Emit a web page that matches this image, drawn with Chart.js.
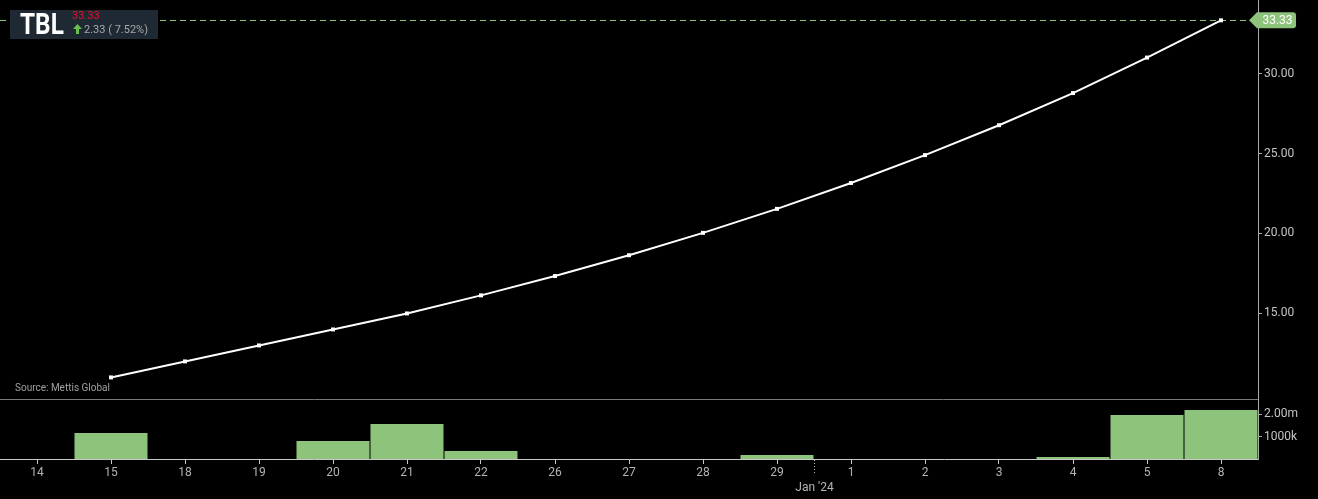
<!DOCTYPE html>
<html lang="en">

<head>
    <meta charset="UTF-8">
    <title>TBL</title>
    <script src="https://cdn.jsdelivr.net/npm/chart.js"></script>
    <style>
        body { margin: 0; background: #000; font-family: Roboto, sans-serif; }
        .wrap { position: relative; width: 1318px; height: 499px; }
        #info { position: absolute; left: 10px; top: 10px; width: 148px; height: 29px; background: #1e2934; }
        #info .sym { position: absolute; left: 10px; top: -3px; font: bold 29px Roboto, sans-serif; color: #fff; line-height: 34px; transform: scaleX(0.84); transform-origin: left center; }
        #info .px { position: absolute; left: 62px; top: 0px; font-size: 11px; line-height: 12px; color: #e3122c; }
        #info .chg { position: absolute; left: 63px; top: 13px; font-size: 11px; line-height: 14px; color: #a8a8a8; white-space: pre; }
        #info svg { vertical-align: -1px; margin-right: 2px; }
        .source { position: absolute; left: 15px; top: 382px; font-size: 10px; line-height: 12px; color: #a0a0a0; }
    </style>
</head>

<body>
    <div class="wrap">
        <canvas id="tblChart"></canvas>
        <div id="info">
            <span class="sym">TBL</span>
            <span class="px">33.33</span>
            <span class="chg"><svg width="9" height="10" viewBox="0 0 9 10"><polygon points="4.5,0 9,5 6,5 6,10 3,10 3,5 0,5" fill="#6cc04a"/></svg>2.33 ( 7.52%)</span>
        </div>
        <div class="source">Source: Mettis Global</div>
    </div>

    <script>
        // days (Dec '23 -> Jan '24)
        const days = ['14', '15', '18', '19', '20', '21', '22', '26', '27', '28', '29', '1', '2', '3', '4', '5', '8'];
        const prices = [null, 11.00, 12.00, 13.00, 14.00, 15.00, 16.13, 17.34, 18.64, 20.04, 21.54, 23.16, 24.90, 26.77, 28.78, 31.00, 33.33];
        const volumes = [0, 1160000, 0, 0, 800000, 1560000, 360000, 0, 0, 0, 180000, 0, 0, 0, 90000, 1960000, 2180000];
        const priceTicks = [15, 20, 25, 30];
        const volTicks = [1000000, 2000000];
        const volTickLabels = ['1000k', '2.00m'];
        const monthLabel = "Jan '24";
        const monthStartIndex = 11;

        const GREEN = '#8dc37a';

        const overlay = {
            id: 'overlay',
            beforeDatasetsDraw(chart) {
                const { ctx, chartArea, scales } = chart;
                ctx.save();
                // panel separator
                const sepY = Math.round(scales.vol.top) + 0.5;
                ctx.strokeStyle = '#7a7a7a';
                ctx.lineWidth = 1;
                ctx.beginPath();
                ctx.moveTo(chartArea.left, sepY);
                ctx.lineTo(chartArea.right, sepY);
                ctx.stroke();
                // last price line
                const last = prices[prices.length - 1];
                const y = Math.round(scales.y.getPixelForValue(last)) + 0.5;
                ctx.setLineDash([6, 4]);
                ctx.strokeStyle = GREEN;
                ctx.beginPath();
                ctx.moveTo(chartArea.left, y);
                ctx.lineTo(chartArea.right - 8, y);
                ctx.stroke();
                ctx.restore();
            },
            afterDraw(chart) {
                const { ctx, chartArea, scales } = chart;
                const last = prices[prices.length - 1];
                const y = scales.y.getPixelForValue(last);
                const x0 = chartArea.right - 9;
                const x1 = x0 + 8, x2 = x0 + 47, h = 8, r = 3;
                ctx.save();
                ctx.fillStyle = GREEN;
                ctx.beginPath();
                ctx.moveTo(x0, y);
                ctx.lineTo(x1, y - h);
                ctx.lineTo(x2 - r, y - h);
                ctx.quadraticCurveTo(x2, y - h, x2, y - h + r);
                ctx.lineTo(x2, y + h - r);
                ctx.quadraticCurveTo(x2, y + h, x2 - r, y + h);
                ctx.lineTo(x1, y + h);
                ctx.closePath();
                ctx.fill();
                ctx.fillStyle = '#fff';
                ctx.font = '12px Roboto';
                ctx.textAlign = 'center';
                ctx.textBaseline = 'middle';
                ctx.fillText(last.toFixed(2), (x1 + x2) / 2 + 1, y + 1);

                // month break
                const mx = Math.round((scales.x.getPixelForValue(monthStartIndex - 1) + scales.x.getPixelForValue(monthStartIndex)) / 2) + 0.5;
                ctx.strokeStyle = '#bbb';
                ctx.lineWidth = 1;
                ctx.setLineDash([1, 2]);
                ctx.beginPath();
                ctx.moveTo(mx, chartArea.bottom + 1);
                ctx.lineTo(mx, chartArea.bottom + 16);
                ctx.stroke();
                ctx.setLineDash([]);
                ctx.fillStyle = '#b4b4b4';
                ctx.fillText(monthLabel, mx, 488);
                ctx.restore();
            }
        };

        const ctx = document.getElementById('tblChart').getContext('2d');

        new Chart(ctx, {
            data: {
                labels: days,
                datasets: [{
                    type: 'line',
                    label: 'Price',
                    data: prices,
                    yAxisID: 'y',
                    borderColor: '#ffffff',
                    borderWidth: 2,
                    pointStyle: 'rect',
                    pointRadius: 2.8,
                    pointBorderWidth: 0,
                    pointBackgroundColor: '#ffffff',
                    tension: 0
                }, {
                    type: 'bar',
                    label: 'Volume',
                    data: volumes,
                    yAxisID: 'vol',
                    backgroundColor: GREEN,
                    barPercentage: 1,
                    categoryPercentage: 73 / 74
                }]
            },
            options: {
                responsive: true,
                maintainAspectRatio: false,
                animation: false,
                layout: { padding: 0, autoPadding: false },
                plugins: {
                    legend: { display: false },
                    tooltip: { enabled: false }
                },
                scales: {
                    x: {
                        type: 'category',
                        offset: true,
                        afterFit: (s) => { s.height = 40; s.paddingLeft = 0; s.paddingRight = 0; },
                        grid: { drawOnChartArea: false, offset: false, tickLength: 5, color: '#c8c8c8' },
                        border: { color: '#c8c8c8' },
                        ticks: { color: '#b4b4b4', font: { family: 'Roboto', size: 12 }, padding: 2, autoSkip: false, maxRotation: 0 }
                    },
                    y: {
                        position: 'right',
                        stack: 'right',
                        stackWeight: 399,
                        min: 9.65,
                        max: 34.6,
                        afterFit: (s) => { s.width = 60; s.paddingTop = 0; s.paddingBottom = 0; },
                        afterBuildTicks: (s) => { s.ticks = priceTicks.map(v => ({ value: v })); },
                        grid: { drawOnChartArea: false, tickLength: 4, color: '#aaaaaa' },
                        border: { color: '#aaaaaa' },
                        ticks: { color: '#c4c4c4', font: { family: 'Roboto', size: 12 }, padding: 2, callback: (v) => Number(v).toFixed(2) }
                    },
                    vol: {
                        position: 'right',
                        stack: 'right',
                        stackWeight: 60,
                        min: 0,
                        max: 2670000,
                        afterFit: (s) => { s.width = 60; s.paddingTop = 0; s.paddingBottom = 0; },
                        afterBuildTicks: (s) => { s.ticks = volTicks.map(v => ({ value: v })); },
                        grid: { drawOnChartArea: false, tickLength: 4, color: '#aaaaaa' },
                        border: { color: '#aaaaaa' },
                        ticks: { color: '#c4c4c4', font: { family: 'Roboto', size: 12 }, padding: 2, callback: (v) => volTickLabels[volTicks.indexOf(v)] }
                    }
                }
            },
            plugins: [overlay]
        });
    </script>
</body>

</html>
